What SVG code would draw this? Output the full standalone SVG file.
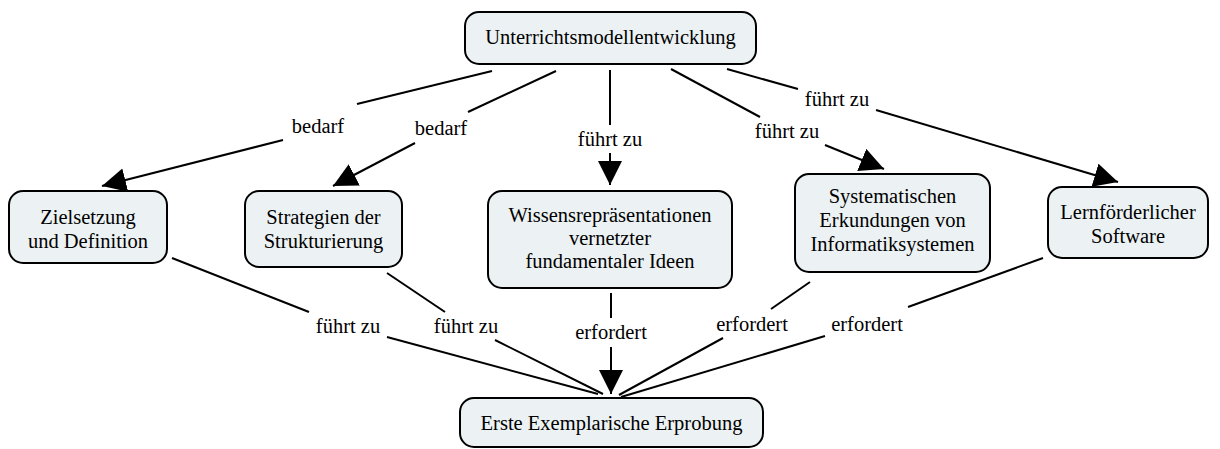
<svg xmlns="http://www.w3.org/2000/svg" width="1220" height="449" viewBox="0 0 1220 449" font-family="'Liberation Serif', 'DejaVu Serif', serif">
<style>
.n rect{fill:#ecf2f4;stroke:#000;stroke-width:2}
text{font-family:'Liberation Serif','DejaVu Serif',serif;font-size:20.5px;fill:#000;text-anchor:middle}
.c line{stroke:#000;stroke-width:2;fill:none}
</style>
<defs>
<marker id="ah" markerUnits="userSpaceOnUse" markerWidth="26" markerHeight="26" refX="24" refY="12" orient="auto">
<path d="M0,0 L24,12 L0,24 Z" fill="#000"/>
</marker>
</defs>
<rect width="1220" height="449" fill="#fff"/>
<g id="connectors" class="c">
<line x1="492" y1="71" x2="357" y2="104"/>
<line x1="283" y1="140" x2="102" y2="186" marker-end="url(#ah)"/>
<line x1="556" y1="71" x2="468" y2="112"/>
<line x1="415" y1="143" x2="333" y2="186" marker-end="url(#ah)"/>
<line x1="610" y1="70" x2="610" y2="125"/>
<line x1="610" y1="153" x2="610" y2="185" marker-end="url(#ah)"/>
<line x1="671" y1="69" x2="760" y2="117"/>
<line x1="825" y1="145" x2="884" y2="169" marker-end="url(#ah)"/>
<line x1="727" y1="69" x2="798" y2="89"/>
<line x1="876" y1="110" x2="1118" y2="182" marker-end="url(#ah)"/>
<line x1="172" y1="258" x2="309" y2="312"/>
<line x1="387" y1="337" x2="598" y2="394"/>
<line x1="387" y1="273" x2="445" y2="312"/>
<line x1="495" y1="340" x2="603" y2="394"/>
<line x1="611" y1="293" x2="611" y2="318"/>
<line x1="611" y1="347" x2="611" y2="394" marker-end="url(#ah)"/>
<line x1="810" y1="282" x2="771" y2="309"/>
<line x1="723" y1="338" x2="619" y2="395"/>
<line x1="1043" y1="258" x2="908" y2="307"/>
<line x1="825" y1="336" x2="621" y2="397"/>
<text x="318" y="133">bedarf</text>
<text x="441" y="135">bedarf</text>
<text x="610" y="146">führt zu</text>
<text x="787" y="138">führt zu</text>
<text x="837" y="106">führt zu</text>
<text x="348" y="333">führt zu</text>
<text x="466" y="333">führt zu</text>
<text x="611" y="339">erfordert</text>
<text x="752" y="331">erfordert</text>
<text x="867" y="331">erfordert</text>
</g>
<g id="n-top" class="n"><rect x="465" y="12" width="291" height="52" rx="14"/><text x="610.5" y="44">Unterrichtsmodellentwicklung</text></g>
<g id="n-ziel" class="n"><rect x="9" y="191" width="158" height="72" rx="14"/><text x="88" y="224">Zielsetzung</text><text x="88" y="248">und Definition</text></g>
<g id="n-strat" class="n"><rect x="245" y="191" width="157" height="76" rx="14"/><text x="323.5" y="224">Strategien der</text><text x="323.5" y="248">Strukturierung</text></g>
<g id="n-wissen" class="n"><rect x="488" y="191" width="244" height="97" rx="14"/><text x="610" y="222">Wissensrepräsentationen</text><text x="610" y="245">vernetzter</text><text x="610" y="268">fundamentaler Ideen</text></g>
<g id="n-sys" class="n"><rect x="795" y="174" width="195" height="98" rx="14"/><text x="892.5" y="203">Systematischen</text><text x="892.5" y="227">Erkundungen von</text><text x="892.5" y="251">Informatiksystemen</text></g>
<g id="n-lern" class="n"><rect x="1048" y="187" width="160" height="71" rx="14"/><text x="1128" y="219">Lernförderlicher</text><text x="1128" y="243">Software</text></g>
<g id="n-erste" class="n"><rect x="460" y="398" width="303" height="49" rx="14"/><text x="611.5" y="430">Erste Exemplarische Erprobung</text></g>
</svg>
